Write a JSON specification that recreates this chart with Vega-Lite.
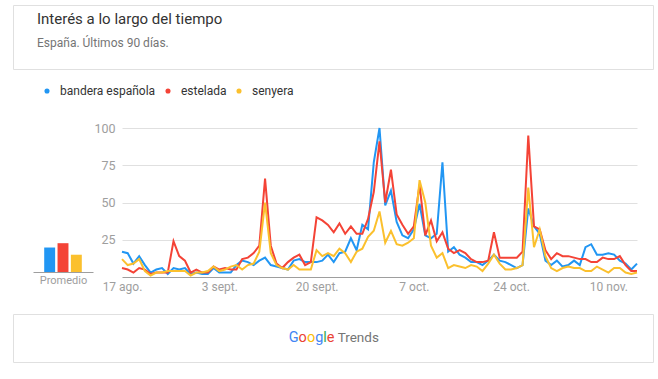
{
  "$schema": "https://vega.github.io/schema/vega-lite/v6.json",
  "background": "white",
  "padding": {"left": 12, "top": 4, "right": 6, "bottom": 17},
  "config": {"font": "Roboto", "view": {"stroke": null}},
  "spacing": 0,
  "resolve": {"legend": {"color": "independent"}},
  "vconcat": [
    {
      "width": 640,
      "height": 64,
      "view": {"stroke": "#e0e0e0"},
      "title": {
        "text": "Interés a lo largo del tiempo",
        "subtitle": "España. Últimos 90 días.",
        "anchor": "start",
        "frame": "group",
        "dx": 24,
        "offset": -44,
        "font": "Roboto",
        "fontSize": 15,
        "fontWeight": "normal",
        "color": "#333333",
        "subtitleFont": "Roboto",
        "subtitleFontSize": 12,
        "subtitleColor": "#757575",
        "subtitlePadding": 11
      },
      "data": {"values": [{}]},
      "mark": {"type": "text", "text": ""},
      "encoding": {}
    },
    {
      "spacing": 0,
      "resolve": {"scale": {"color": "shared"}},
      "hconcat": [
        {
          "width": 20,
          "height": 144,
          "data": {"values": [{}]},
          "mark": {"type": "text", "text": ""},
          "encoding": {}
        },
        {
          "width": 60,
          "height": 144,
          "data": {"values": [
            {"k": "bandera española", "m": 17},
            {"k": "estelada", "m": 20},
            {"k": "senyera", "m": 12}
          ]},
          "mark": {"type": "bar"},
          "encoding": {
            "x": {
              "field": "k", "type": "nominal", "sort": null,
              "scale": {"paddingInner": 0.18, "paddingOuter": 0.84},
              "axis": {"labels": false, "ticks": false, "domain": true, "domainColor": "#9e9e9e",
                "title": "Promedio", "titleFont": "Roboto", "titleFontSize": 11, "titleFontWeight": "normal",
                "titleColor": "#9e9e9e", "titlePadding": 2}
            },
            "y": {
              "field": "m", "type": "quantitative",
              "scale": {"domain": [0, 100], "nice": false},
              "axis": null
            },
            "color": {
              "field": "k", "type": "nominal",
              "scale": {"domain": ["bandera española", "estelada", "senyera"], "range": ["#2196f3", "#f44336", "#fbc02d"]},
              "legend": {
                "orient": "top", "direction": "horizontal",
                "title": "\u00a0", "titleOrient": "left", "titlePadding": 13, "titleFontSize": 12,
                "symbolType": "circle", "symbolSize": 26, "symbolStrokeWidth": 0,
                "labelFont": "Roboto", "labelFontSize": 12, "labelColor": "#333333",
                "padding": 15, "columnPadding": 6, "labelOffset": 7, "offset": 10
              }
            }
          }
        },
        {
          "width": 515,
          "height": 149,
          "data": {"values": [
{"d":"2017-08-17","k":"bandera española","v":17},{"d":"2017-08-18","k":"bandera española","v":16},{"d":"2017-08-19","k":"bandera española","v":9},{"d":"2017-08-20","k":"bandera española","v":14},{"d":"2017-08-21","k":"bandera española","v":8},{"d":"2017-08-22","k":"bandera española","v":3},{"d":"2017-08-23","k":"bandera española","v":5},{"d":"2017-08-24","k":"bandera española","v":6},{"d":"2017-08-25","k":"bandera española","v":2},{"d":"2017-08-26","k":"bandera española","v":6},{"d":"2017-08-27","k":"bandera española","v":5},{"d":"2017-08-28","k":"bandera española","v":6},{"d":"2017-08-29","k":"bandera española","v":2},{"d":"2017-08-30","k":"bandera española","v":3},{"d":"2017-08-31","k":"bandera española","v":2},
{"d":"2017-09-01","k":"bandera española","v":2},{"d":"2017-09-02","k":"bandera española","v":6},{"d":"2017-09-03","k":"bandera española","v":3},{"d":"2017-09-04","k":"bandera española","v":3},{"d":"2017-09-05","k":"bandera española","v":3},{"d":"2017-09-06","k":"bandera española","v":8},{"d":"2017-09-07","k":"bandera española","v":11},{"d":"2017-09-08","k":"bandera española","v":10},{"d":"2017-09-09","k":"bandera española","v":8},{"d":"2017-09-10","k":"bandera española","v":11},{"d":"2017-09-11","k":"bandera española","v":13},{"d":"2017-09-12","k":"bandera española","v":8},{"d":"2017-09-13","k":"bandera española","v":7},{"d":"2017-09-14","k":"bandera española","v":6},{"d":"2017-09-15","k":"bandera española","v":5},{"d":"2017-09-16","k":"bandera española","v":11},{"d":"2017-09-17","k":"bandera española","v":12},{"d":"2017-09-18","k":"bandera española","v":10},{"d":"2017-09-19","k":"bandera española","v":10},{"d":"2017-09-20","k":"bandera española","v":10},{"d":"2017-09-21","k":"bandera española","v":11},{"d":"2017-09-22","k":"bandera española","v":15},{"d":"2017-09-23","k":"bandera española","v":10},{"d":"2017-09-24","k":"bandera española","v":16},{"d":"2017-09-25","k":"bandera española","v":17},{"d":"2017-09-26","k":"bandera española","v":26},{"d":"2017-09-27","k":"bandera española","v":18},{"d":"2017-09-28","k":"bandera española","v":35},{"d":"2017-09-29","k":"bandera española","v":32},{"d":"2017-09-30","k":"bandera española","v":77},
{"d":"2017-10-01","k":"bandera española","v":100},{"d":"2017-10-02","k":"bandera española","v":48},{"d":"2017-10-03","k":"bandera española","v":58},{"d":"2017-10-04","k":"bandera española","v":37},{"d":"2017-10-05","k":"bandera española","v":28},{"d":"2017-10-06","k":"bandera española","v":26},{"d":"2017-10-07","k":"bandera española","v":32},{"d":"2017-10-08","k":"bandera española","v":49},{"d":"2017-10-09","k":"bandera española","v":28},{"d":"2017-10-10","k":"bandera española","v":26},{"d":"2017-10-11","k":"bandera española","v":29},{"d":"2017-10-12","k":"bandera española","v":77},{"d":"2017-10-13","k":"bandera española","v":17},{"d":"2017-10-14","k":"bandera española","v":20},{"d":"2017-10-15","k":"bandera española","v":15},{"d":"2017-10-16","k":"bandera española","v":13},{"d":"2017-10-17","k":"bandera española","v":10},{"d":"2017-10-18","k":"bandera española","v":10},{"d":"2017-10-19","k":"bandera española","v":8},{"d":"2017-10-20","k":"bandera española","v":11},{"d":"2017-10-21","k":"bandera española","v":15},{"d":"2017-10-22","k":"bandera española","v":11},{"d":"2017-10-23","k":"bandera española","v":10},{"d":"2017-10-24","k":"bandera española","v":8},{"d":"2017-10-25","k":"bandera española","v":6},{"d":"2017-10-26","k":"bandera española","v":8},{"d":"2017-10-27","k":"bandera española","v":46},{"d":"2017-10-28","k":"bandera española","v":34},{"d":"2017-10-29","k":"bandera española","v":29},{"d":"2017-10-30","k":"bandera española","v":11},{"d":"2017-10-31","k":"bandera española","v":8},
{"d":"2017-11-01","k":"bandera española","v":11},{"d":"2017-11-02","k":"bandera española","v":7},{"d":"2017-11-03","k":"bandera española","v":8},{"d":"2017-11-04","k":"bandera española","v":11},{"d":"2017-11-05","k":"bandera española","v":8},{"d":"2017-11-06","k":"bandera española","v":20},{"d":"2017-11-07","k":"bandera española","v":22},{"d":"2017-11-08","k":"bandera española","v":15},{"d":"2017-11-09","k":"bandera española","v":15},{"d":"2017-11-10","k":"bandera española","v":16},{"d":"2017-11-11","k":"bandera española","v":15},{"d":"2017-11-12","k":"bandera española","v":11},{"d":"2017-11-13","k":"bandera española","v":9},{"d":"2017-11-14","k":"bandera española","v":5},{"d":"2017-11-15","k":"bandera española","v":9},
{"d":"2017-08-17","k":"estelada","v":6},{"d":"2017-08-18","k":"estelada","v":5},{"d":"2017-08-19","k":"estelada","v":3},{"d":"2017-08-20","k":"estelada","v":6},{"d":"2017-08-21","k":"estelada","v":5},{"d":"2017-08-22","k":"estelada","v":2},{"d":"2017-08-23","k":"estelada","v":3},{"d":"2017-08-24","k":"estelada","v":3},{"d":"2017-08-25","k":"estelada","v":3},{"d":"2017-08-26","k":"estelada","v":24},{"d":"2017-08-27","k":"estelada","v":14},{"d":"2017-08-28","k":"estelada","v":11},{"d":"2017-08-29","k":"estelada","v":3},{"d":"2017-08-30","k":"estelada","v":5},{"d":"2017-08-31","k":"estelada","v":3},
{"d":"2017-09-01","k":"estelada","v":3},{"d":"2017-09-02","k":"estelada","v":7},{"d":"2017-09-03","k":"estelada","v":5},{"d":"2017-09-04","k":"estelada","v":6},{"d":"2017-09-05","k":"estelada","v":5},{"d":"2017-09-06","k":"estelada","v":5},{"d":"2017-09-07","k":"estelada","v":12},{"d":"2017-09-08","k":"estelada","v":13},{"d":"2017-09-09","k":"estelada","v":16},{"d":"2017-09-10","k":"estelada","v":21},{"d":"2017-09-11","k":"estelada","v":66},{"d":"2017-09-12","k":"estelada","v":21},{"d":"2017-09-13","k":"estelada","v":9},{"d":"2017-09-14","k":"estelada","v":6},{"d":"2017-09-15","k":"estelada","v":10},{"d":"2017-09-16","k":"estelada","v":13},{"d":"2017-09-17","k":"estelada","v":15},{"d":"2017-09-18","k":"estelada","v":8},{"d":"2017-09-19","k":"estelada","v":10},{"d":"2017-09-20","k":"estelada","v":40},{"d":"2017-09-21","k":"estelada","v":38},{"d":"2017-09-22","k":"estelada","v":35},{"d":"2017-09-23","k":"estelada","v":30},{"d":"2017-09-24","k":"estelada","v":36},{"d":"2017-09-25","k":"estelada","v":29},{"d":"2017-09-26","k":"estelada","v":34},{"d":"2017-09-27","k":"estelada","v":29},{"d":"2017-09-28","k":"estelada","v":29},{"d":"2017-09-29","k":"estelada","v":39},{"d":"2017-09-30","k":"estelada","v":57},
{"d":"2017-10-01","k":"estelada","v":91},{"d":"2017-10-02","k":"estelada","v":50},{"d":"2017-10-03","k":"estelada","v":72},{"d":"2017-10-04","k":"estelada","v":42},{"d":"2017-10-05","k":"estelada","v":35},{"d":"2017-10-06","k":"estelada","v":29},{"d":"2017-10-07","k":"estelada","v":34},{"d":"2017-10-08","k":"estelada","v":62},{"d":"2017-10-09","k":"estelada","v":28},{"d":"2017-10-10","k":"estelada","v":38},{"d":"2017-10-11","k":"estelada","v":24},{"d":"2017-10-12","k":"estelada","v":30},{"d":"2017-10-13","k":"estelada","v":19},{"d":"2017-10-14","k":"estelada","v":16},{"d":"2017-10-15","k":"estelada","v":18},{"d":"2017-10-16","k":"estelada","v":16},{"d":"2017-10-17","k":"estelada","v":12},{"d":"2017-10-18","k":"estelada","v":10},{"d":"2017-10-19","k":"estelada","v":10},{"d":"2017-10-20","k":"estelada","v":11},{"d":"2017-10-21","k":"estelada","v":30},{"d":"2017-10-22","k":"estelada","v":13},{"d":"2017-10-23","k":"estelada","v":13},{"d":"2017-10-24","k":"estelada","v":13},{"d":"2017-10-25","k":"estelada","v":13},{"d":"2017-10-26","k":"estelada","v":17},{"d":"2017-10-27","k":"estelada","v":95},{"d":"2017-10-28","k":"estelada","v":34},{"d":"2017-10-29","k":"estelada","v":32},{"d":"2017-10-30","k":"estelada","v":18},{"d":"2017-10-31","k":"estelada","v":12},
{"d":"2017-11-01","k":"estelada","v":16},{"d":"2017-11-02","k":"estelada","v":14},{"d":"2017-11-03","k":"estelada","v":14},{"d":"2017-11-04","k":"estelada","v":13},{"d":"2017-11-05","k":"estelada","v":12},{"d":"2017-11-06","k":"estelada","v":12},{"d":"2017-11-07","k":"estelada","v":10},{"d":"2017-11-08","k":"estelada","v":10},{"d":"2017-11-09","k":"estelada","v":13},{"d":"2017-11-10","k":"estelada","v":12},{"d":"2017-11-11","k":"estelada","v":12},{"d":"2017-11-12","k":"estelada","v":14},{"d":"2017-11-13","k":"estelada","v":8},{"d":"2017-11-14","k":"estelada","v":4},{"d":"2017-11-15","k":"estelada","v":4},
{"d":"2017-08-17","k":"senyera","v":12},{"d":"2017-08-18","k":"senyera","v":8},{"d":"2017-08-19","k":"senyera","v":9},{"d":"2017-08-20","k":"senyera","v":12},{"d":"2017-08-21","k":"senyera","v":4},{"d":"2017-08-22","k":"senyera","v":1},{"d":"2017-08-23","k":"senyera","v":3},{"d":"2017-08-24","k":"senyera","v":3},{"d":"2017-08-25","k":"senyera","v":4},{"d":"2017-08-26","k":"senyera","v":4},{"d":"2017-08-27","k":"senyera","v":4},{"d":"2017-08-28","k":"senyera","v":4},{"d":"2017-08-29","k":"senyera","v":1},{"d":"2017-08-30","k":"senyera","v":3},{"d":"2017-08-31","k":"senyera","v":3},
{"d":"2017-09-01","k":"senyera","v":4},{"d":"2017-09-02","k":"senyera","v":7},{"d":"2017-09-03","k":"senyera","v":4},{"d":"2017-09-04","k":"senyera","v":5},{"d":"2017-09-05","k":"senyera","v":7},{"d":"2017-09-06","k":"senyera","v":8},{"d":"2017-09-07","k":"senyera","v":5},{"d":"2017-09-08","k":"senyera","v":8},{"d":"2017-09-09","k":"senyera","v":9},{"d":"2017-09-10","k":"senyera","v":17},{"d":"2017-09-11","k":"senyera","v":50},{"d":"2017-09-12","k":"senyera","v":16},{"d":"2017-09-13","k":"senyera","v":8},{"d":"2017-09-14","k":"senyera","v":6},{"d":"2017-09-15","k":"senyera","v":5},{"d":"2017-09-16","k":"senyera","v":8},{"d":"2017-09-17","k":"senyera","v":5},{"d":"2017-09-18","k":"senyera","v":5},{"d":"2017-09-19","k":"senyera","v":5},{"d":"2017-09-20","k":"senyera","v":18},{"d":"2017-09-21","k":"senyera","v":14},{"d":"2017-09-22","k":"senyera","v":16},{"d":"2017-09-23","k":"senyera","v":14},{"d":"2017-09-24","k":"senyera","v":19},{"d":"2017-09-25","k":"senyera","v":16},{"d":"2017-09-26","k":"senyera","v":10},{"d":"2017-09-27","k":"senyera","v":17},{"d":"2017-09-28","k":"senyera","v":19},{"d":"2017-09-29","k":"senyera","v":27},{"d":"2017-09-30","k":"senyera","v":31},
{"d":"2017-10-01","k":"senyera","v":44},{"d":"2017-10-02","k":"senyera","v":23},{"d":"2017-10-03","k":"senyera","v":31},{"d":"2017-10-04","k":"senyera","v":22},{"d":"2017-10-05","k":"senyera","v":21},{"d":"2017-10-06","k":"senyera","v":23},{"d":"2017-10-07","k":"senyera","v":26},{"d":"2017-10-08","k":"senyera","v":65},{"d":"2017-10-09","k":"senyera","v":50},{"d":"2017-10-10","k":"senyera","v":21},{"d":"2017-10-11","k":"senyera","v":13},{"d":"2017-10-12","k":"senyera","v":16},{"d":"2017-10-13","k":"senyera","v":6},{"d":"2017-10-14","k":"senyera","v":8},{"d":"2017-10-15","k":"senyera","v":7},{"d":"2017-10-16","k":"senyera","v":6},{"d":"2017-10-17","k":"senyera","v":8},{"d":"2017-10-18","k":"senyera","v":7},{"d":"2017-10-19","k":"senyera","v":4},{"d":"2017-10-20","k":"senyera","v":9},{"d":"2017-10-21","k":"senyera","v":15},{"d":"2017-10-22","k":"senyera","v":9},{"d":"2017-10-23","k":"senyera","v":5},{"d":"2017-10-24","k":"senyera","v":5},{"d":"2017-10-25","k":"senyera","v":6},{"d":"2017-10-26","k":"senyera","v":8},{"d":"2017-10-27","k":"senyera","v":60},{"d":"2017-10-28","k":"senyera","v":20},{"d":"2017-10-29","k":"senyera","v":32},{"d":"2017-10-30","k":"senyera","v":14},{"d":"2017-10-31","k":"senyera","v":6},
{"d":"2017-11-01","k":"senyera","v":4},{"d":"2017-11-02","k":"senyera","v":6},{"d":"2017-11-03","k":"senyera","v":7},{"d":"2017-11-04","k":"senyera","v":6},{"d":"2017-11-05","k":"senyera","v":6},{"d":"2017-11-06","k":"senyera","v":4},{"d":"2017-11-07","k":"senyera","v":4},{"d":"2017-11-08","k":"senyera","v":7},{"d":"2017-11-09","k":"senyera","v":5},{"d":"2017-11-10","k":"senyera","v":3},{"d":"2017-11-11","k":"senyera","v":6},{"d":"2017-11-12","k":"senyera","v":6},{"d":"2017-11-13","k":"senyera","v":3},{"d":"2017-11-14","k":"senyera","v":2},{"d":"2017-11-15","k":"senyera","v":3}
          ]},
          "mark": {"type": "line", "strokeWidth": 2, "interpolate": "linear"},
          "encoding": {
            "x": {
              "field": "d", "type": "temporal", "scale": {"type": "utc"},
              "axis": {
                "values": [
                  {"year": 2017, "month": 8, "date": 17, "utc": true},
                  {"year": 2017, "month": 9, "date": 3, "utc": true},
                  {"year": 2017, "month": 9, "date": 20, "utc": true},
                  {"year": 2017, "month": 10, "date": 7, "utc": true},
                  {"year": 2017, "month": 10, "date": 24, "utc": true},
                  {"year": 2017, "month": 11, "date": 10, "utc": true}
                ],
                "labelExpr": "utcdate(datum.value) + ' ' + ['ene.','feb.','mar.','abr.','may.','jun.','jul.','ago.','sept.','oct.','nov.','dic.'][utcmonth(datum.value)]",
                "ticks": false, "grid": false, "domainColor": "#9e9e9e",
                "labelColor": "#9e9e9e", "labelFont": "Roboto", "labelFontSize": 12, "labelPadding": 4,
                "labelFlush": false, "labelOverlap": false, "labelBound": false,
                "title": null, "minExtent": 36, "maxExtent": 36
              }
            },
            "y": {
              "field": "v", "type": "quantitative",
              "scale": {"domain": [0, 100], "nice": false},
              "axis": {
                "values": [25, 50, 75, 100], "grid": true, "gridColor": "#e0e0e0",
                "ticks": false, "domain": false, "labelColor": "#9e9e9e", "labelFont": "Roboto",
                "labelFontSize": 12.5, "labelPadding": 7, "title": null,
                "minExtent": 25, "maxExtent": 25
              }
            },
            "color": {"field": "k", "type": "nominal", "legend": null}
          }
        }
      ]
    },
    {
      "width": 640,
      "height": 48,
      "view": {"stroke": "#e0e0e0"},
      "data": {"values": [{}]},
      "layer": [
        {"mark": {"type": "text", "text": "G", "color": "#4285f4", "align": "left", "baseline": "middle", "dx": -44.3, "font": "Roboto", "fontSize": 14.5}, "encoding": {}},
        {"mark": {"type": "text", "text": "o", "color": "#ea4335", "align": "left", "baseline": "middle", "dx": -34.4, "font": "Roboto", "fontSize": 14.5}, "encoding": {}},
        {"mark": {"type": "text", "text": "o", "color": "#fbbc05", "align": "left", "baseline": "middle", "dx": -26.1, "font": "Roboto", "fontSize": 14.5}, "encoding": {}},
        {"mark": {"type": "text", "text": "g", "color": "#4285f4", "align": "left", "baseline": "middle", "dx": -17.8, "font": "Roboto", "fontSize": 14.5}, "encoding": {}},
        {"mark": {"type": "text", "text": "l", "color": "#34a853", "align": "left", "baseline": "middle", "dx": -9.7, "font": "Roboto", "fontSize": 14.5}, "encoding": {}},
        {"mark": {"type": "text", "text": "e", "color": "#ea4335", "align": "left", "baseline": "middle", "dx": -6.2, "font": "Roboto", "fontSize": 14.5}, "encoding": {}},
        {"mark": {"type": "text", "text": "Trends", "color": "#757575", "align": "left", "baseline": "middle", "dx": 4.7, "font": "Roboto", "fontSize": 13.5}, "encoding": {}}
      ]
    }
  ]
}
